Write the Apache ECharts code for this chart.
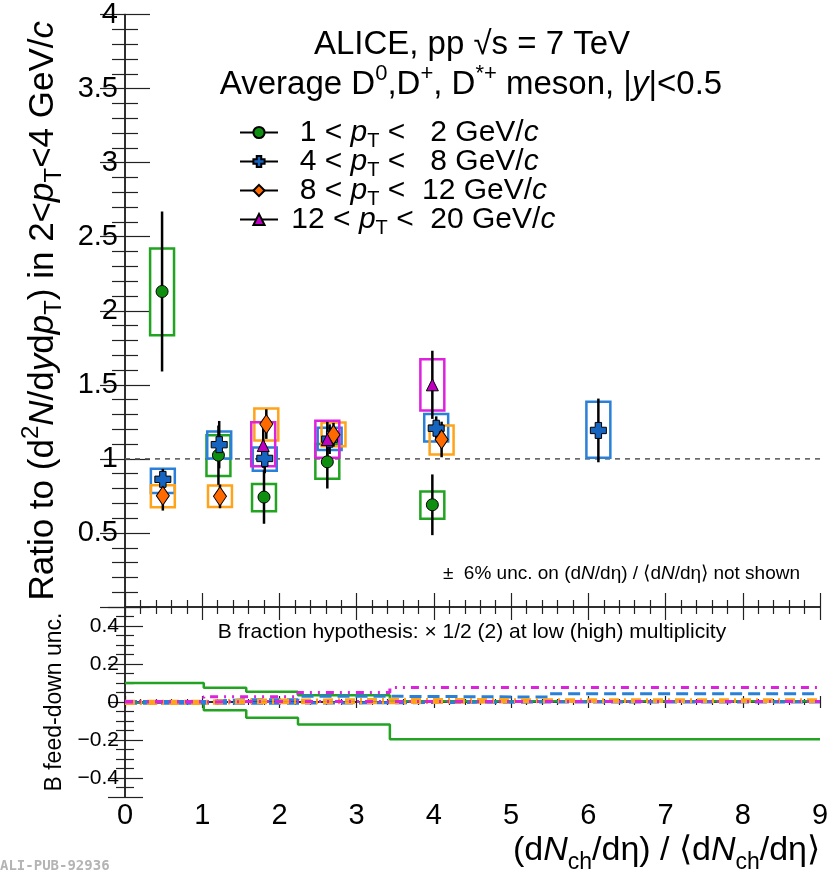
<!DOCTYPE html>
<html>
<head>
<meta charset="utf-8">
<script src="https://cdn.jsdelivr.net/npm/echarts@6/dist/echarts.min.js"></script>
<style>
  html, body { margin: 0; padding: 0; background: #fff; }
  #chart { width: 837px; height: 876px; }
</style>
</head>
<body>
<div id="chart"></div>
<script>
// ---- data ----
// top panel: ratio to 2<pT<4, per pT interval
var greenX = [0.48, 1.21, 1.80, 2.62, 3.98];
var greenY = [2.13, 1.025, 0.742, 0.98, 0.69];
var greenStat = [0.54, 0.2, 0.18, 0.18, 0.205];
var greenSysLo = [1.835, 0.885, 0.646, 0.866, 0.595];
var greenSysHi = [2.42, 1.16, 0.83, 1.10, 0.78];

var blueX = [0.49, 1.22, 1.81, 2.65, 4.03, 6.13];
var blueY = [0.862, 1.096, 1.003, 1.133, 1.207, 1.192];
var blueStat = [0.07, 0.16, 0.10, 0.10, 0.08, 0.215];
var blueSysLo = [0.77, 1.002, 0.919, 1.06, 1.118, 1.007];
var blueSysHi = [0.934, 1.185, 1.077, 1.21, 1.303, 1.385];

var orangeX = [0.49, 1.23, 1.83, 2.70, 4.10];
var orangeY = [0.751, 0.747, 1.235, 1.163, 1.131];
var orangeStat = [0.1, 0.08, 0.1, 0.08, 0.12];
var orangeSysLo = [0.673, 0.675, 1.124, 1.085, 1.03];
var orangeSysHi = [0.822, 0.82, 1.34, 1.245, 1.225];

var magentaX = [1.79, 2.62, 3.98];
var magentaY = [1.09, 1.13, 1.5];
var magentaStat = [0.15, 0.12, 0.23];
var magentaSysLo = [0.95, 1.007, 1.327];
var magentaSysHi = [1.247, 1.258, 1.673];

// bottom panel: B feed-down band edges (step lines)
var binEdges = [0, 1.02, 1.57, 2.24, 3.43, 5.5, 9];
var greenUp = [0.1, 0.075, 0.054, 0.035, 0.004, 0.004];
var greenLow = [-0.004, -0.044, -0.083, -0.118, -0.196, -0.196];
var blueUp = [0.002, 0.012, 0.012, 0.03, 0.026, 0.044];
var blueLow = [-0.006, -0.006, -0.006, -0.004, 0.0, 0.0];
var orangeUp = [0.004, 0.01, 0.01, 0.014, 0.012, 0.012];
var orangeLow = [-0.008, -0.004, -0.004, -0.004, 0.002, 0.002];
var magentaUp = [0.002, 0.028, 0.028, 0.05, 0.076, 0.076];
var magentaLow = [0.0, 0.002, 0.002, 0.002, 0.002, 0.002];

var seriesNames = ['1 < pT < 2 GeV/c', '4 < pT < 8 GeV/c', '8 < pT < 12 GeV/c', '12 < pT < 20 GeV/c'];
var xTicks = [0, 1, 2, 3, 4, 5, 6, 7, 8, 9];

// ---- styling ----
var FONT = 'Liberation Sans, Arial, sans-serif';
var BOX_HALF = 0.155;
var COL = {
  green: { mark: '#0f8f0f', box: '#22a322' },
  blue: { mark: '#1565c0', box: '#2a80d8' },
  orange: { mark: '#ff6a00', box: '#ffa31a' },
  magenta: { mark: '#c000c0', box: '#dd22dd' }
};
var PLUS = 'path://M3,0 H7 V3 H10 V7 H7 V10 H3 V7 H0 V3 H3 Z';

// rich text styles: n normal, i italic, sub / sup small shifted
function rich(size, lh) {
  lh = lh || Math.round(size * 1.15);
  var small = Math.round(size * 0.68);
  return {
    n: { fontSize: size, fontFamily: FONT, color: '#000', lineHeight: lh },
    i: { fontSize: size, fontFamily: FONT, fontStyle: 'italic', color: '#000', lineHeight: lh },
    sub: { fontSize: small, fontFamily: FONT, color: '#000', lineHeight: Math.round(lh * 0.4), padding: [Math.round(lh * 0.6), 0, 0, 0] },
    sup: { fontSize: small, fontFamily: FONT, color: '#000', lineHeight: Math.round(lh * 0.4), padding: [0, 0, Math.round(lh * 0.6), 0] }
  };
}

function boxSeries(color, xs, lo, hi) {
  return {
    type: 'custom', xAxisIndex: 0, yAxisIndex: 0, silent: true, z: 2,
    data: xs.map(function (x, i) { return [x, lo[i], hi[i]]; }),
    renderItem: function (params, api) {
      var a = api.coord([api.value(0) - BOX_HALF, api.value(2)]);
      var b = api.coord([api.value(0) + BOX_HALF, api.value(1)]);
      return {
        type: 'rect',
        shape: { x: a[0], y: a[1], width: b[0] - a[0], height: b[1] - a[1] },
        style: { fill: 'none', stroke: color, lineWidth: 2.5 }
      };
    }
  };
}

function errSeries(xs, ys, es) {
  return {
    type: 'custom', xAxisIndex: 0, yAxisIndex: 0, silent: true, z: 3,
    data: xs.map(function (x, i) { return [x, ys[i] - es[i], ys[i] + es[i]]; }),
    renderItem: function (params, api) {
      var a = api.coord([api.value(0), api.value(2)]);
      var b = api.coord([api.value(0), api.value(1)]);
      return {
        type: 'line',
        shape: { x1: a[0], y1: a[1], x2: b[0], y2: b[1] },
        style: { stroke: '#000', lineWidth: 2.5 }
      };
    }
  };
}

// markers as line series with hidden line, so the legend shows -o-
function markSeries(name, col, symbol, size, xs, ys) {
  return {
    name: name, type: 'line', xAxisIndex: 0, yAxisIndex: 0, z: 5,
    symbol: symbol, symbolSize: size, showSymbol: true,
    lineStyle: { opacity: 0, width: 0 },
    itemStyle: { color: col, borderColor: '#000', borderWidth: 1 },
    emphasis: { disabled: true },
    data: xs.map(function (x, i) { return [x, ys[i]]; })
  };
}

function stepSeries(color, type, width, vals) {
  var pts = vals.map(function (v, i) { return [binEdges[i], v]; });
  pts.push([binEdges[binEdges.length - 1], vals[vals.length - 1]]);
  return {
    type: 'line', xAxisIndex: 2, yAxisIndex: 2, step: 'end', symbol: 'none', silent: true,
    lineStyle: { color: color, type: type, width: width },
    data: pts
  };
}

var legendText = {
  '1 < pT < 2 GeV/c': '  {n|1 < }{i|p}{sub|T}{n| <   2 GeV/}{i|c}',
  '4 < pT < 8 GeV/c': '  {n|4 < }{i|p}{sub|T}{n| <   8 GeV/}{i|c}',
  '8 < pT < 12 GeV/c': '  {n|8 < }{i|p}{sub|T}{n| <  12 GeV/}{i|c}',
  '12 < pT < 20 GeV/c': ' {n|12 < }{i|p}{sub|T}{n| <  20 GeV/}{i|c}'
};

var axisLine = { show: true, lineStyle: { color: '#222', width: 1.5 } };

function frameAxis(pos, grid, min, max, len, opts) {
  var ax = {
    type: 'value', gridIndex: grid, position: pos, min: min, max: max,
    axisLine: axisLine,
    axisTick: { show: true, inside: true, length: len, lineStyle: { color: '#222', width: 1.2 } },
    minorTick: { show: true, splitNumber: opts.minor, length: Math.round(len / 2), lineStyle: { color: '#222', width: 1.2 } },
    axisLabel: { show: false },
    splitLine: { show: false }
  };
  if (opts.interval) ax.interval = opts.interval;
  if (opts.splitNumber) ax.splitNumber = opts.splitNumber;
  return ax;
}

var chart = echarts.init(document.getElementById('chart'));

var xBottom = frameAxis('bottom', 1, 0, 9, 6, { interval: 1, minor: 5 });
xBottom.axisLabel = {
  show: true, fontSize: 29, fontFamily: FONT, color: '#000', margin: 4,
  formatter: function (v) { return xTicks.indexOf(v) >= 0 ? String(v) : ''; }
};

var yTop = frameAxis('left', 0, 0, 4, 25, { interval: 0.5, minor: 5 });
yTop.axisLabel = { show: true, fontSize: 29, fontFamily: FONT, color: '#000', margin: 7, showMinLabel: false };
yTop.name = '{n|Ratio to (d}{sup|2}{i|N}{n|/d}{i|y}{n|d}{i|p}{sub|T}{n|) in 2<}{i|p}{sub|T}{n|<4 GeV/}{i|c}';
yTop.nameLocation = 'middle';
yTop.nameRotate = 90;
yTop.nameGap = 60;
yTop.nameTextStyle = { fontSize: 35, fontFamily: FONT, color: '#000', rich: rich(35, 38) };

var yBot = frameAxis('left', 1, -0.5, 0.5, 18, { splitNumber: 5, minor: 4 });
yBot.axisLabel = {
  show: true, fontSize: 21, fontFamily: FONT, color: '#000', margin: 6, showMinLabel: false, showMaxLabel: false,
  formatter: function (v) { var r = Math.round(v * 10) / 10; return r < 0 ? '−' + Math.abs(r) : String(r); }
};
yBot.name = 'B feed-down unc.';
yBot.nameLocation = 'middle';
yBot.nameRotate = 90;
yBot.nameGap = 55;
yBot.nameTextStyle = { fontSize: 23, fontFamily: FONT, color: '#000' };

var option = {
  backgroundColor: '#fff',
  animation: false,
  grid: [
    { left: 125, right: 17, top: 7, height: 600 },
    { left: 125, right: 17, top: 607, height: 190 }
  ],
  xAxis: [
    frameAxis('bottom', 0, 0, 9, 14, { interval: 1, minor: 5 }),
    frameAxis('top', 0, 0, 9, 13, { interval: 1, minor: 5 }),
    xBottom,
    frameAxis('top', 1, 0, 9, 6, { interval: 1, minor: 5 })
  ],
  yAxis: [
    yTop,
    frameAxis('right', 0, 0, 4, 25, { interval: 0.5, minor: 5 }),
    yBot,
    frameAxis('right', 1, -0.5, 0.5, 17, { splitNumber: 5, minor: 4 })
  ],
  legend: {
    orient: 'vertical', left: 234, top: 109, itemWidth: 38, itemHeight: 14, itemGap: -8,
    data: seriesNames, selectedMode: false,
    lineStyle: { color: '#000', width: 2, opacity: 1 },
    textStyle: { fontSize: 30, lineHeight: 29, fontFamily: FONT, color: '#000', rich: rich(30, 29) },
    formatter: function (name) { return legendText[name]; }
  },
  graphic: [
    { type: 'text', x: 472, y: 45, style: { text: 'ALICE, pp √s = 7 TeV', font: '33px ' + FONT, fill: '#000', align: 'center', verticalAlign: 'middle' } },
    { type: 'text', x: 471, y: 85, style: { text: '{n|Average D}{sup|0}{n|,D}{sup|+}{n|, D}{sup|*+}{n| meson, |}{i|y}{n||<0.5}', rich: rich(33, 36), align: 'center', verticalAlign: 'middle' } },
    { type: 'text', x: 800, y: 574, style: { text: '{n|±  6% unc. on (d}{i|N}{n|/dη) / ⟨d}{i|N}{n|/dη⟩ not shown}', rich: rich(19, 22), align: 'right', verticalAlign: 'middle' } },
    { type: 'text', x: 472, y: 632, style: { text: 'B fraction hypothesis: × 1/2 (2) at low (high) multiplicity', font: '21px ' + FONT, fill: '#000', align: 'center', verticalAlign: 'middle' } },
    { type: 'text', x: 820, y: 851, style: { text: '{n|(d}{i|N}{sub|ch}{n|/dη) / ⟨d}{i|N}{sub|ch}{n|/dη⟩}', rich: rich(34, 38), align: 'right', verticalAlign: 'middle' } },
    { type: 'text', x: 0, y: 866, style: { text: 'ALI-PUB-92936', font: 'bold 14px DejaVu Sans Mono, monospace', fill: '#b4b4b4', verticalAlign: 'middle' } }
  ],
  series: [
    // reference line at 1
    {
      type: 'line', xAxisIndex: 0, yAxisIndex: 0, symbol: 'none', silent: true, z: 1,
      lineStyle: { color: '#555', type: [5, 5], width: 1.5 },
      data: [[0, 1], [9, 1]]
    },
    boxSeries(COL.green.box, greenX, greenSysLo, greenSysHi),
    boxSeries(COL.blue.box, blueX, blueSysLo, blueSysHi),
    boxSeries(COL.orange.box, orangeX, orangeSysLo, orangeSysHi),
    boxSeries(COL.magenta.box, magentaX, magentaSysLo, magentaSysHi),
    errSeries(greenX, greenY, greenStat),
    errSeries(blueX, blueY, blueStat),
    errSeries(orangeX, orangeY, orangeStat),
    errSeries(magentaX, magentaY, magentaStat),
    markSeries(seriesNames[0], COL.green.mark, 'circle', 12, greenX, greenY),
    markSeries(seriesNames[1], COL.blue.mark, PLUS, 16, blueX, blueY),
    markSeries(seriesNames[2], COL.orange.mark, 'diamond', [13, 19], orangeX, orangeY),
    markSeries(seriesNames[3], COL.magenta.mark, 'triangle', 12, magentaX, magentaY),
    // bottom panel bands
    stepSeries(COL.green.box, 'solid', 2.5, greenUp),
    stepSeries(COL.green.box, 'solid', 2.5, greenLow),
    stepSeries(COL.blue.box, [12, 6], 3, blueUp),
    stepSeries(COL.blue.box, [12, 6], 3, blueLow),
    stepSeries(COL.orange.box, [10, 5, 2, 5], 3, orangeUp),
    stepSeries(COL.orange.box, [10, 5, 2, 5], 3, orangeLow),
    stepSeries(COL.magenta.box, [8, 6, 2, 6, 2, 6], 3, magentaUp),
    stepSeries(COL.magenta.box, [8, 6, 2, 6, 2, 6], 3, magentaLow)
  ]
};

chart.setOption(option);
</script>
</body>
</html>
